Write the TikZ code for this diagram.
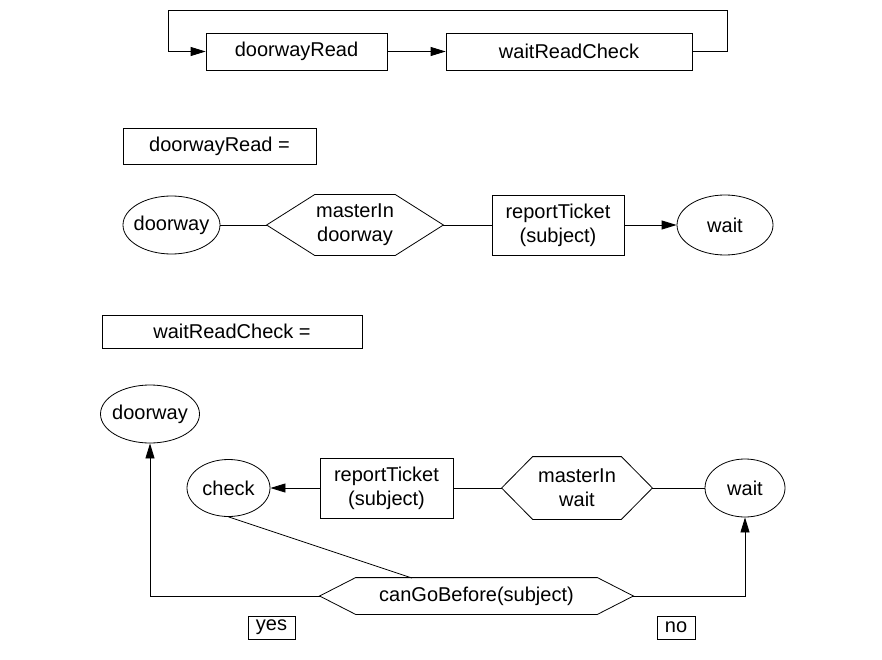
\documentclass[tikz,border=0pt]{standalone}
\usepackage{fontspec}
\setmainfont{Liberation Sans}
\usetikzlibrary{arrows.meta,shapes.geometric,calc}
\newcommand\hexdraw[2]{\draw (#1.west) -- ($(#1.north west)+(#2,0)$) -- ($(#1.north east)+(-#2,0)$) -- (#1.east) -- ($(#1.south east)+(-#2,0)$) -- ($(#1.south west)+(#2,0)$) -- cycle;}
\newcommand\zw[1]{\makebox[0pt]{#1}}
\begin{document}
\begin{tikzpicture}[x=1pt,y=-1pt,
  line width=0.8pt,
  every node/.style={font=\fontsize{20}{24}\selectfont, align=center, inner sep=0pt},
  rbox/.style={draw, rectangle},
  ell/.style={draw, ellipse},
  hexa/.style={rectangle},
  arr/.style={-{Triangle[length=15pt,width=9pt]}}
]
\useasboundingbox (0,0) rectangle (882,660);
% top
\node[rbox, minimum width=181, minimum height=37] (dr) at (296.5,51.5) {doorwayRead};
\node[rbox, minimum width=246, minimum height=37] (wrc) at (569,51.5) {waitReadCheck};
\draw[arr] (dr.east) -- (wrc.west);
\coordinate (tr) at (727,10);
\coordinate (tl) at (168,10);
\draw[arr] (wrc.east) -| (tr) -- (tl) |- (dr.west);
% label
\node[rbox, minimum width=193, minimum height=36] (lab1) at (219.5,146) {doorwayRead =};
% row 2
\node[ell, minimum width=97, minimum height=58] (d1) at (171.5,225) {\zw{doorway}};
\node[hexa, minimum width=176, minimum height=60] (h1) at (355,225) {masterIn\\doorway};
\hexdraw{h1}{48}
\node[rbox, minimum width=132, minimum height=60] (rt1) at (558,225) {reportTicket\\(subject)};
\node[ell, minimum width=96, minimum height=60] (w1) at (725,225) {\zw{wait}};
\draw (d1.east) -- (h1.west);
\draw (h1.east) -- (rt1.west);
\draw[arr] (rt1.east) -- (w1.west);
% label 2
\node[rbox, minimum width=260, minimum height=33] (lab2) at (232,331.5) {waitReadCheck =};
% row 3
\node[ell, minimum width=99, minimum height=58] (d2) at (150,414) {\zw{doorway}};
\node[ell, minimum width=83, minimum height=57] (ck) at (228.5,488) {\zw{check}};
\node[rbox, minimum width=133, minimum height=60] (rt2) at (386.5,488) {reportTicket\\(subject)};
\node[hexa, minimum width=150, minimum height=62] (h2) at (577,488) {masterIn\\wait};
\hexdraw{h2}{31}
\node[ell, minimum width=80, minimum height=58] (w2) at (745,488) {\zw{wait}};
\draw[arr] (rt2.west) -- (ck.east);
\draw (rt2.east) -- (h2.west);
\draw (h2.east) -- (w2.west);
\node[hexa, minimum width=313, minimum height=36] (cgb) at (476.5,596) {canGoBefore(subject)};
\hexdraw{cgb}{36}
\coordinate (cgbtop) at (412,578);
\draw (ck.south) -- (cgbtop);
\draw[arr] (cgb.west) -| (d2.south);
\draw[arr] (cgb.east) -| (w2.south);
\node[rbox, minimum width=47, minimum height=23] (yes) at (271.5,627.5) {yes};
\node[rbox, minimum width=38, minimum height=23] (no) at (676,627.5) {no};
\end{tikzpicture}
\end{document}
